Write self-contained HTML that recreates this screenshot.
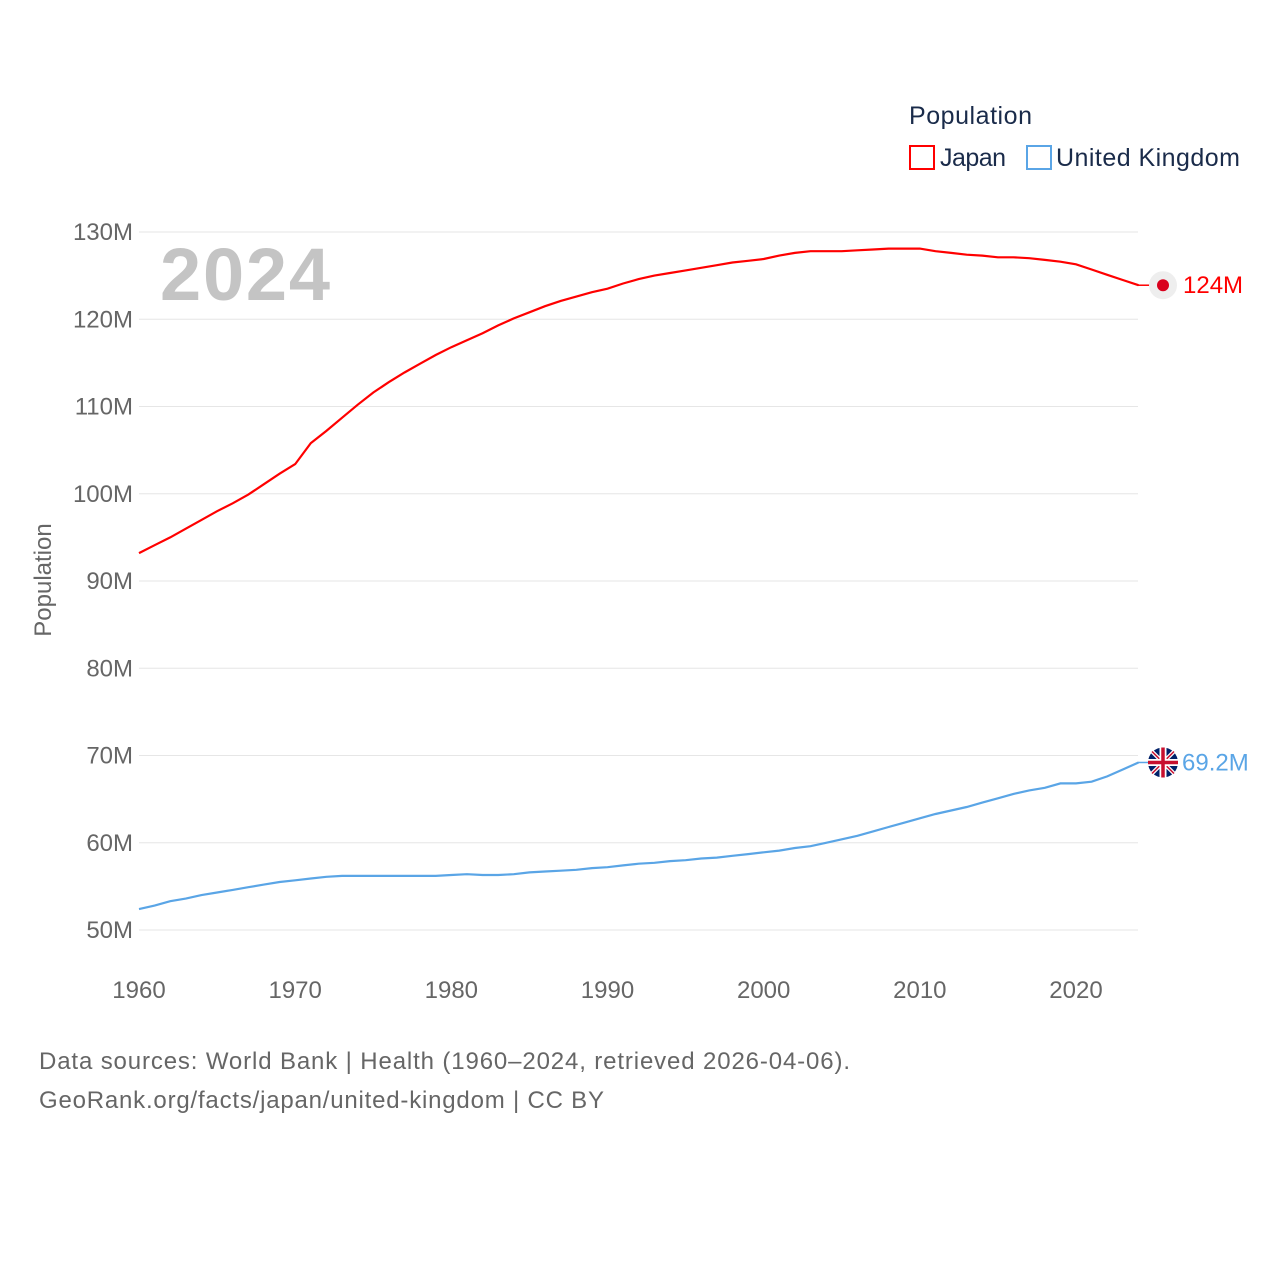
<!DOCTYPE html>
<html><head><meta charset="utf-8"><style>
body{margin:0;background:#fff;}
svg{display:block;font-family:"Liberation Sans",sans-serif;}
</style></head><body>
<svg id="chart" width="1280" height="1280" viewBox="0 0 1280 1280">
<text x="909" y="124" font-size="25" fill="#1a2b4a" textLength="123">Population</text>
<g><rect x="910" y="146" width="24" height="23" fill="none" stroke="#ff0000" stroke-width="2"/><text x="940" y="166" font-size="25" fill="#1a2b4a" textLength="66">Japan</text></g>
<g><rect x="1027" y="146" width="24" height="23" fill="none" stroke="#5aa5e6" stroke-width="2"/><text x="1056" y="166" font-size="25" fill="#1a2b4a" textLength="184">United Kingdom</text></g>
<text x="160" y="300" font-size="74" font-weight="bold" fill="#c4c4c4" textLength="170">2024</text>
<text transform="translate(51,580) rotate(-90)" text-anchor="middle" font-size="24" fill="#666">Population</text>
<g id="grid"></g><g id="yt"></g><g id="xt"></g><g id="lines"></g>
<text x="39" y="1069" font-size="24" fill="#666" textLength="811">Data sources: World Bank | Health (1960–2024, retrieved 2026-04-06).</text>
<text x="39" y="1108" font-size="24" fill="#666" textLength="565">GeoRank.org/facts/japan/united-kingdom | CC BY</text>
</svg>
<script>
const years=[];for(let y=1960;y<=2024;y++)years.push(y);
const japan=[93.2,94.1,95.0,96.0,97.0,98.0,98.9,99.9,101.1,102.3,103.4,105.8,107.2,108.7,110.2,111.6,112.8,113.9,114.9,115.9,116.8,117.6,118.4,119.3,120.1,120.8,121.5,122.1,122.6,123.1,123.5,124.1,124.6,125.0,125.3,125.6,125.9,126.2,126.5,126.7,126.9,127.3,127.6,127.8,127.8,127.8,127.9,128.0,128.1,128.1,128.1,127.8,127.6,127.4,127.3,127.1,127.1,127.0,126.8,126.6,126.3,125.7,125.1,124.5,123.9];
const uk=[52.4,52.8,53.3,53.6,54.0,54.3,54.6,54.9,55.2,55.5,55.7,55.9,56.1,56.2,56.2,56.2,56.2,56.2,56.2,56.2,56.3,56.4,56.3,56.3,56.4,56.6,56.7,56.8,56.9,57.1,57.2,57.4,57.6,57.7,57.9,58.0,58.2,58.3,58.5,58.7,58.9,59.1,59.4,59.6,60.0,60.4,60.8,61.3,61.8,62.3,62.8,63.3,63.7,64.1,64.6,65.1,65.6,66.0,66.3,66.8,66.8,67.0,67.6,68.4,69.2];
const yTicks=[50,60,70,80,90,100,110,120,130];
const xTicks=[1960,1970,1980,1990,2000,2010,2020];
const X=y=>139+(y-1960)*(937/60);
const Y=v=>930-(v-50)*8.725;
const NS='http://www.w3.org/2000/svg';
function mk(t,a,p){const e=document.createElementNS(NS,t);for(const k in a)e.setAttribute(k,a[k]);p.appendChild(e);return e;}
const g=document.getElementById('grid'),yt=document.getElementById('yt'),xt=document.getElementById('xt'),L=document.getElementById('lines');
yTicks.forEach(v=>{
 const l=mk('line',{x1:139,x2:1138,y1:Y(v),y2:Y(v),stroke:'#e6e6e6','stroke-width':1},g);
 
 
 const t=mk('text',{x:133,y:Y(v)+8,'text-anchor':'end','font-size':24,fill:'#666'},yt);t.textContent=v+'M';
 
 
});
xTicks.forEach(v=>{
 const t=mk('text',{x:X(v),y:998,'text-anchor':'middle','font-size':24,fill:'#666'},xt);t.textContent=v;
 
 
});
function line(data,color,name){
 const d=data.map((v,i)=>(i?'L':'M')+X(years[i]).toFixed(1)+','+Y(v).toFixed(1)).join('');
 const p=mk('path',{d:d,fill:'none',stroke:color,'stroke-width':2.2},L);
 
 
 const last=data[data.length-1],yy=Y(last);
 mk('line',{x1:1138,x2:1150,y1:yy,y2:yy,stroke:color,'stroke-width':1.5},L);
 return yy;
}
const jy=line(japan,'#ff0000','japan');
const uy=line(uk,'#5aa5e6','uk');
const jm=mk('g',{},L);


mk('circle',{cx:1163,cy:jy,r:14,fill:'#eee'},jm);mk('circle',{cx:1163,cy:jy,r:6,fill:'#d9001d'},jm);
const jl=mk('text',{x:1183,y:jy+8,'font-size':24,fill:'#ff0000'},L);jl.textContent=Math.round(japan[japan.length-1])+'M';


const um=mk('g',{},L);


const c=1163;
mk('circle',{cx:c,cy:uy,r:15,fill:'#012169'},um);
mk('path',{d:`M${c-11},${uy-11}L${c+11},${uy+11}M${c+11},${uy-11}L${c-11},${uy+11}`,stroke:'#fff','stroke-width':4},um);
mk('path',{d:`M${c-11},${uy-11}L${c+11},${uy+11}M${c+11},${uy-11}L${c-11},${uy+11}`,stroke:'#c8102e','stroke-width':1.5},um);
mk('path',{d:`M${c-15},${uy}H${c+15}M${c},${uy-15}V${uy+15}`,stroke:'#fff','stroke-width':7},um);
mk('path',{d:`M${c-15},${uy}H${c+15}M${c},${uy-15}V${uy+15}`,stroke:'#c8102e','stroke-width':3.5},um);
const ul=mk('text',{x:1182,y:uy+8,'font-size':24,fill:'#5aa5e6'},L);ul.textContent=uk[uk.length-1].toFixed(1)+'M';


</script>
</body></html>
